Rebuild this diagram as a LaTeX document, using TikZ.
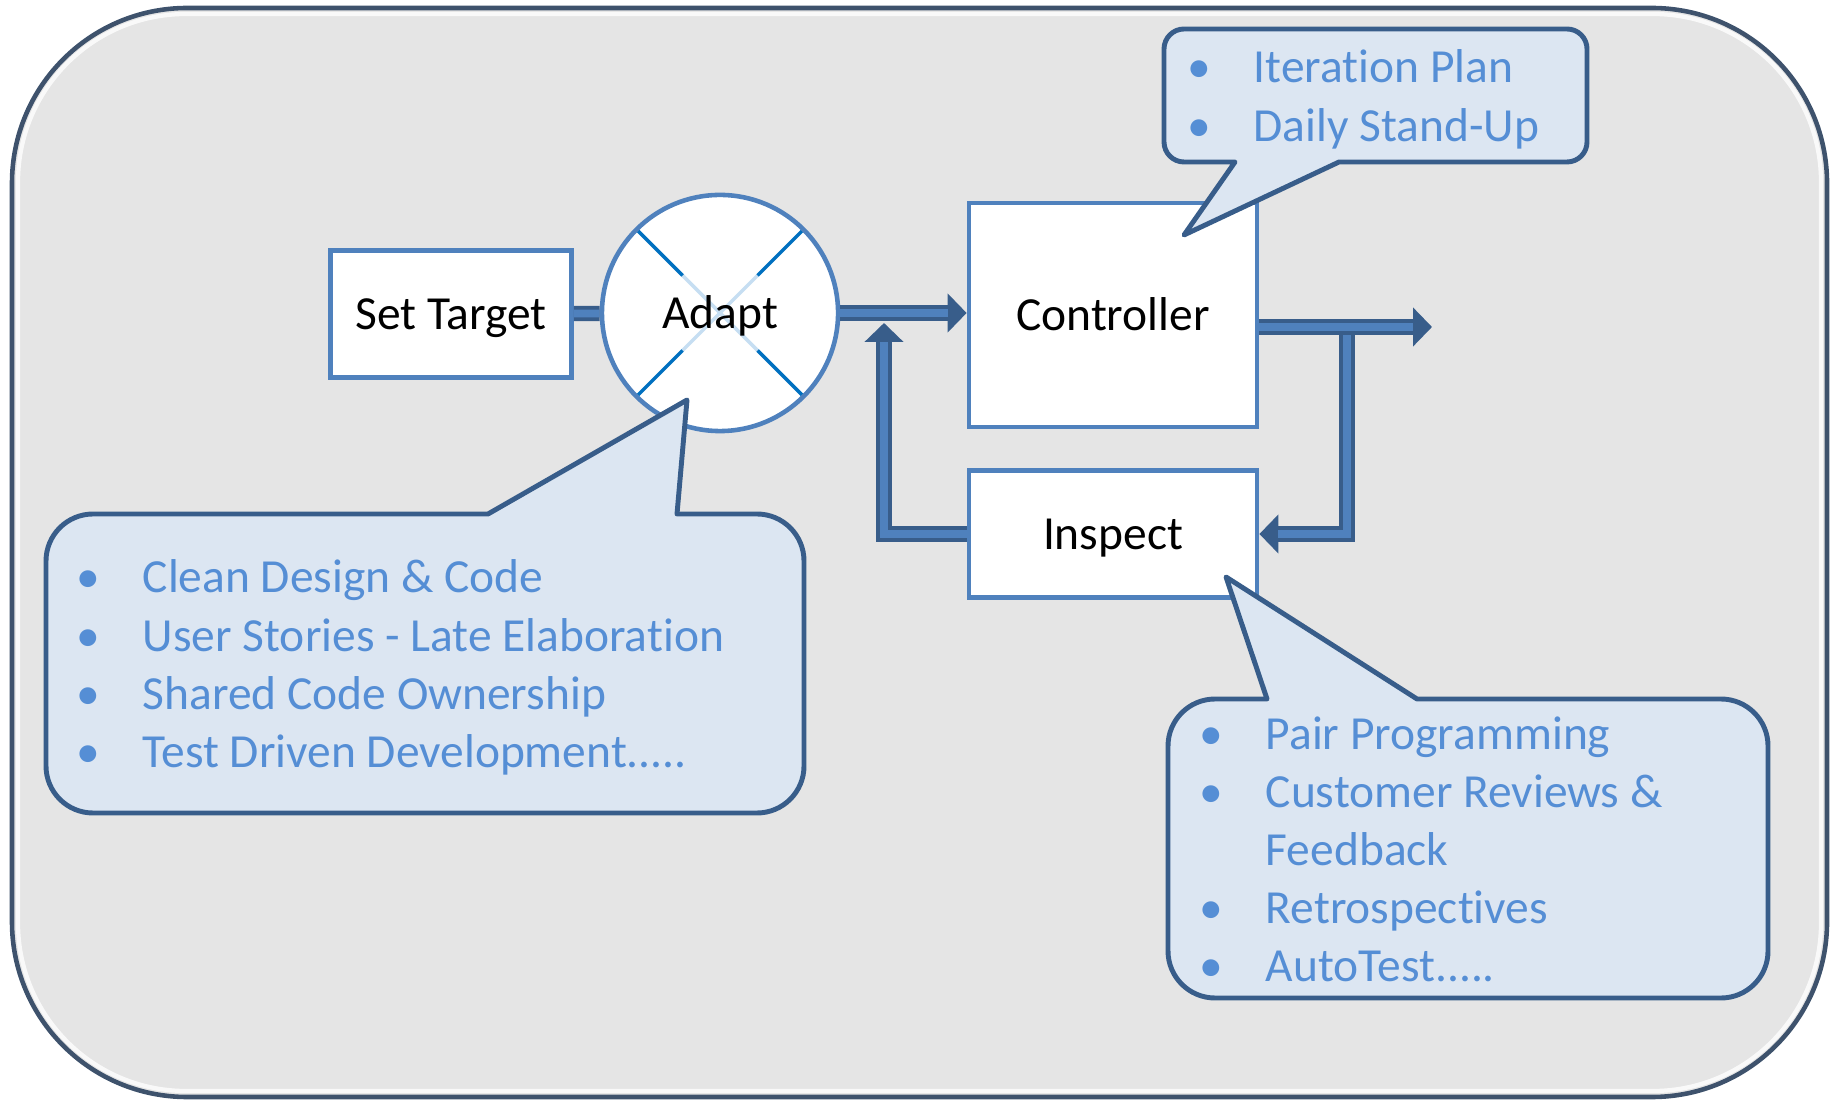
\documentclass[tikz,border=0pt]{standalone}
\usepackage{fontspec}
\setmainfont{Carlito}[Ligatures=NoCommon]
\usetikzlibrary{arrows.meta,calc}

\definecolor{bggray}{RGB}{229,229,229}
\definecolor{framec}{RGB}{62,82,108}
\definecolor{boxline}{RGB}{79,129,189}
\definecolor{txtblue}{RGB}{85,142,213}
\definecolor{callfill}{RGB}{220,230,242}
\definecolor{callline}{RGB}{56,93,138}
\definecolor{arrdark}{RGB}{56,93,138}
\definecolor{arrlight}{RGB}{79,129,189}
\definecolor{xdark}{RGB}{0,112,192}
\definecolor{xlight}{RGB}{198,222,242}

\newcommand{\itm}[1]{\makebox[0.54cm][l]{\makebox[0pt]{•}}#1}
\newcommand{\cnt}[1]{\hspace{0.54cm}#1}

\begin{document}
\begin{tikzpicture}[x=0.01cm,y=-0.01cm,
  every node/.style={font=\fontsize{13.5}{16.5}\selectfont},
  blk/.style={draw=boxline,fill=white,line width=1.3pt,inner sep=0pt,text height=9pt,text depth=0pt},
  adapt/.style={circle,draw=boxline,fill=white,line width=1.3pt,inner sep=0pt,
    minimum size=2.36cm,text height=9pt,text depth=0pt,
    path picture={
      \foreach \a in {45,135,225,315} {
        \draw[xlight,line width=1pt] (path picture bounding box.center) -- +(\a:0.53cm);
        \draw[xdark,line width=1pt] ([shift={(\a:0.53cm)}]path picture bounding box.center) -- +(\a:0.8cm);
      }}},
  bar/.style={draw=arrdark,line width=4.3pt,postaction={draw=arrlight,line width=2.2pt}},
  flow/.style={draw=arrdark,line width=4.3pt,-{Triangle[length=5.4pt,width=10.8pt]},
    postaction={draw=arrlight,line width=2.2pt,-,shorten >=5.4pt}},
  callout/.style={draw=callline,fill=callfill,line width=1.4pt,line join=round},
  notes/.style={anchor=base west,inner sep=0pt,text=txtblue}]

  \useasboundingbox (0,0) rectangle (1831,1101);
  % frame
  \draw[fill=bggray,draw=framec,line width=1.3pt,rounded corners=1.75cm] (12,8) rectangle (1827,1097);
  \draw[white,opacity=.8,line width=1.2pt,rounded corners=1.68cm] (18,14) rectangle (1821,1091);

  % blocks
  \node[blk,minimum width=2.41cm,minimum height=1.27cm] (st) at (451,314) {Set Target};
  \node[adapt] (adapt) at (720,313) {Adapt};
  \node[blk,minimum width=2.88cm,minimum height=2.24cm] (ctrl) at (1113,315) {Controller};
  \node[blk,minimum width=2.88cm,minimum height=1.27cm] (insp) at (1113,534) {Inspect};

  \coordinate (split) at (1347,327);
  \coordinate (out) at (1432,327);
  \coordinate (fbtip) at (884,323);

  % arrows
  \draw[bar] (st) -- (adapt);
  \draw[flow] (insp.west) -| (fbtip);
  \draw[flow] (adapt) -- (adapt -| ctrl.west);
  \draw[flow] (split) |- (insp.east);
  \draw[flow] (ctrl.east |- out) -- (out);

  % callouts
  \draw[callout] (1235,162) -- (1184,235) -- (1339,162) [rounded corners=0.2cm]
    -- (1587,162) -- (1587,29) -- (1164,29) -- (1164,162) [sharp corners] -- cycle;
  \draw[callout] (488,514) -- (687,400) -- (677,514) [rounded corners=0.47cm]
    -- (804,514) -- (804,813) -- (46,813) -- (46,514) [sharp corners] -- cycle;
  \draw[callout] (1267,699) -- (1226,577) -- (1417,699) [rounded corners=0.47cm]
    -- (1768,699) -- (1768,998) -- (1168,998) -- (1168,699) [sharp corners] -- cycle;

  \node[notes] (plan) at (1199,83) {\begin{tabular}[t]{@{}l@{}}
    \itm{Iteration Plan}\\
    \itm{Daily Stand-Up}\end{tabular}};
  \node[notes] (adnotes) at (88,593) {\begin{tabular}[t]{@{}l@{}}
    \itm{Clean Design \& Code}\\
    \itm{User Stories - Late Elaboration}\\
    \itm{Shared Code Ownership}\\
    \itm{Test Driven Development.....}\end{tabular}};
  \node[notes] (innotes) at (1211,749) {\begin{tabular}[t]{@{}l@{}}
    \itm{Pair Programming}\\
    \itm{Customer Reviews \&}\\
    \cnt{Feedback}\\
    \itm{Retrospectives}\\
    \itm{AutoTest.....}\end{tabular}};
\end{tikzpicture}
\end{document}
